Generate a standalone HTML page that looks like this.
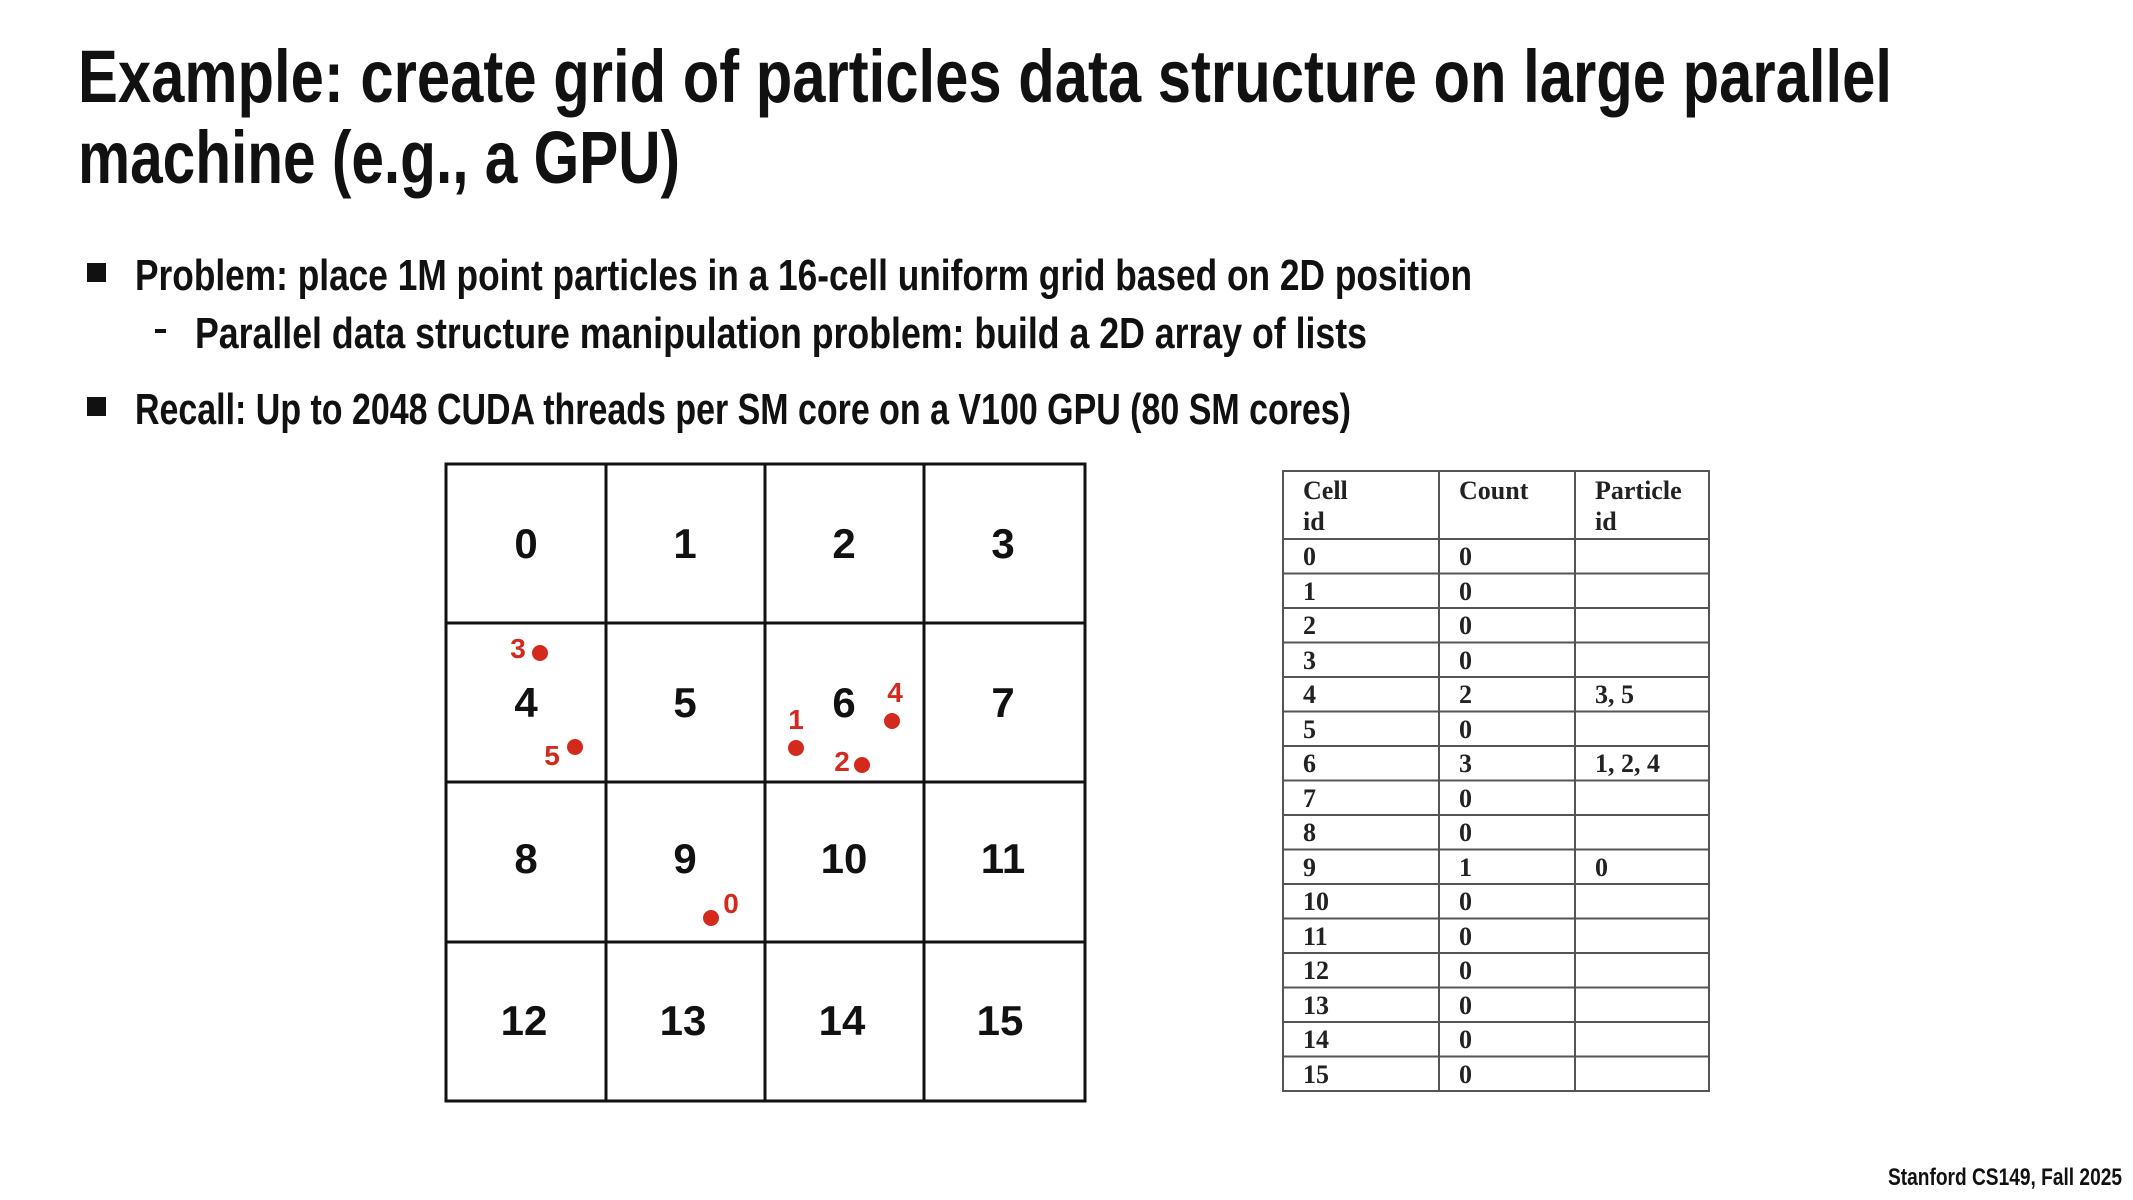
<!DOCTYPE html>
<html><head><meta charset="utf-8"><style>
html,body{margin:0;padding:0;background:#fff;}
svg{display:block;}
.t{font-family:"Liberation Sans",sans-serif;font-weight:bold;fill:#111;}
.s{font-family:"Liberation Serif",serif;font-weight:bold;fill:#222;font-size:26px;}
.r{font-family:"Liberation Sans",sans-serif;font-weight:bold;fill:#d42a1e;font-size:28px;}
</style></head><body>
<svg width="2133" height="1200" viewBox="0 0 2133 1200" xmlns="http://www.w3.org/2000/svg">
<rect width="2133" height="1200" fill="#fff"/>
<text class="t" x="78" y="102" font-size="74" textLength="1814" lengthAdjust="spacingAndGlyphs">Example: create grid of particles data structure on large parallel</text>
<text class="t" x="78" y="183" font-size="74" textLength="602" lengthAdjust="spacingAndGlyphs">machine (e.g., a GPU)</text>

<rect x="87" y="263" width="19" height="19" fill="#111"/>
<text class="t" x="135" y="290" font-size="44" textLength="1337" lengthAdjust="spacingAndGlyphs">Problem: place 1M point particles in a 16-cell uniform grid based on 2D position</text>
<rect x="155" y="329" width="11" height="4" fill="#111"/>
<text class="t" x="195" y="348" font-size="44" textLength="1172" lengthAdjust="spacingAndGlyphs">Parallel data structure manipulation problem: build a 2D array of lists</text>
<rect x="87" y="397" width="19" height="19" fill="#111"/>
<text class="t" x="135" y="424" font-size="44" textLength="1216" lengthAdjust="spacingAndGlyphs">Recall: Up to 2048 CUDA threads per SM core on a V100 GPU (80 SM cores)</text>

<!-- grid -->
<g stroke="#111" stroke-width="3" fill="none">
<rect x="446" y="464" width="639" height="637"/>
<line x1="606" y1="464" x2="606" y2="1101"/>
<line x1="765" y1="464" x2="765" y2="1101"/>
<line x1="924" y1="464" x2="924" y2="1101"/>
<line x1="446" y1="623" x2="1085" y2="623"/>
<line x1="446" y1="782" x2="1085" y2="782"/>
<line x1="446" y1="942" x2="1085" y2="942"/>
</g>
<g class="t" font-size="42" text-anchor="middle">
<text x="526" y="558">0</text><text x="685" y="558">1</text><text x="844" y="558">2</text><text x="1003" y="558">3</text>
<text x="526" y="717">4</text><text x="685" y="717">5</text><text x="844" y="717">6</text><text x="1003" y="717">7</text>
<text x="526" y="873">8</text><text x="685" y="873">9</text><text x="844" y="873">10</text><text x="1003" y="873">11</text>
<text x="524" y="1035">12</text><text x="683" y="1035">13</text><text x="842" y="1035">14</text><text x="1000" y="1035">15</text>
</g>
<g fill="#d42a1e">
<circle cx="540" cy="653" r="8"/><circle cx="575" cy="747" r="8"/><circle cx="796" cy="748" r="8"/>
<circle cx="892" cy="721" r="8"/><circle cx="862" cy="765" r="8"/><circle cx="711" cy="918" r="8"/>
</g>
<g class="r" text-anchor="middle">
<text x="518" y="658">3</text><text x="552" y="765">5</text><text x="796" y="729">1</text>
<text x="895" y="702">4</text><text x="842" y="771">2</text><text x="731" y="913">0</text>
</g>

<!-- table -->
<g stroke="#555" stroke-width="2" fill="none">
<rect x="1283" y="471" width="426" height="620"/>
<line x1="1439" y1="471" x2="1439" y2="1091"/>
<line x1="1575" y1="471" x2="1575" y2="1091"/>
<line x1="1283" y1="539" x2="1709" y2="539"/>
<line x1="1283" y1="573.5" x2="1709" y2="573.5"/><line x1="1283" y1="608" x2="1709" y2="608"/>
<line x1="1283" y1="642.5" x2="1709" y2="642.5"/><line x1="1283" y1="677" x2="1709" y2="677"/>
<line x1="1283" y1="711.5" x2="1709" y2="711.5"/><line x1="1283" y1="746" x2="1709" y2="746"/>
<line x1="1283" y1="780.5" x2="1709" y2="780.5"/><line x1="1283" y1="815" x2="1709" y2="815"/>
<line x1="1283" y1="849.5" x2="1709" y2="849.5"/><line x1="1283" y1="884" x2="1709" y2="884"/>
<line x1="1283" y1="918.5" x2="1709" y2="918.5"/><line x1="1283" y1="953" x2="1709" y2="953"/>
<line x1="1283" y1="987.5" x2="1709" y2="987.5"/><line x1="1283" y1="1022" x2="1709" y2="1022"/>
<line x1="1283" y1="1056.5" x2="1709" y2="1056.5"/>
</g>
<g class="s">
<text x="1303" y="499">Cell</text><text x="1303" y="530">id</text>
<text x="1459" y="499">Count</text>
<text x="1595" y="499">Particle</text><text x="1595" y="530">id</text>
</g>
<g class="s">
<text x="1303" y="565">0</text><text x="1459" y="565">0</text>
<text x="1303" y="600">1</text><text x="1459" y="600">0</text>
<text x="1303" y="634">2</text><text x="1459" y="634">0</text>
<text x="1303" y="669">3</text><text x="1459" y="669">0</text>
<text x="1303" y="703">4</text><text x="1459" y="703">2</text><text x="1595" y="703">3, 5</text>
<text x="1303" y="738">5</text><text x="1459" y="738">0</text>
<text x="1303" y="772">6</text><text x="1459" y="772">3</text><text x="1595" y="772">1, 2, 4</text>
<text x="1303" y="807">7</text><text x="1459" y="807">0</text>
<text x="1303" y="841">8</text><text x="1459" y="841">0</text>
<text x="1303" y="876">9</text><text x="1459" y="876">1</text><text x="1595" y="876">0</text>
<text x="1303" y="910">10</text><text x="1459" y="910">0</text>
<text x="1303" y="945">11</text><text x="1459" y="945">0</text>
<text x="1303" y="979">12</text><text x="1459" y="979">0</text>
<text x="1303" y="1014">13</text><text x="1459" y="1014">0</text>
<text x="1303" y="1048">14</text><text x="1459" y="1048">0</text>
<text x="1303" y="1083">15</text><text x="1459" y="1083">0</text>
</g>
<text class="t" x="2122" y="1185" font-size="24" text-anchor="end" textLength="234" lengthAdjust="spacingAndGlyphs">Stanford CS149, Fall 2025</text>
</svg>
</body></html>
